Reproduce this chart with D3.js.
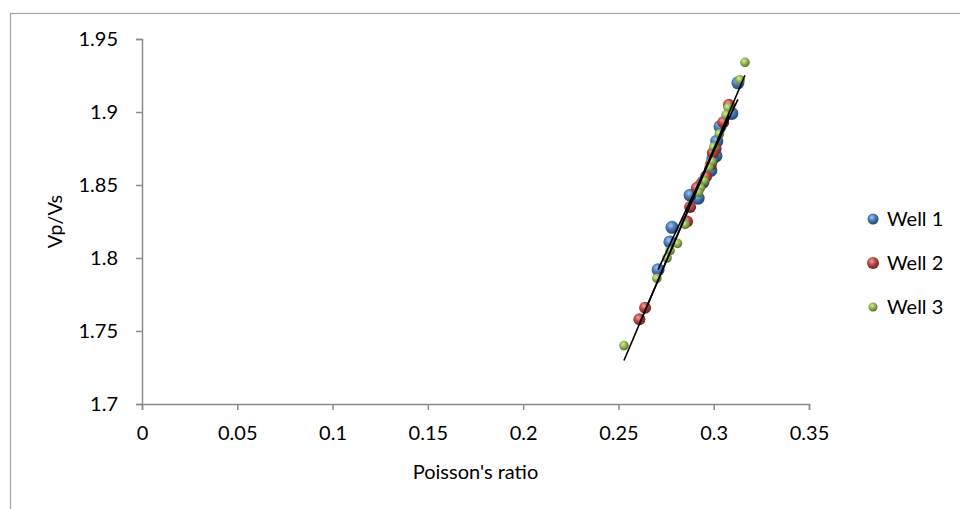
<!DOCTYPE html>
<html>
<head>
<meta charset="utf-8">
<script src="https://cdn.jsdelivr.net/npm/d3@7"></script>
<style>
  body { margin: 0; background: #fff; }
  text { font-family: Lato, "Open Sans", sans-serif; fill: #000; }
</style>
</head>
<body>
<div id="chart"></div>
<script>
// values
const seriesNames = ["Well 1", "Well 2", "Well 3"];
const well1 = [
  [0.3127, 1.920], [0.3095, 1.899], [0.3033, 1.890], [0.3016, 1.880], [0.3012, 1.870],
  [0.2995, 1.868], [0.2985, 1.860], [0.2944, 1.852], [0.2918, 1.841], [0.2876, 1.843],
  [0.2781, 1.821], [0.2770, 1.811], [0.2708, 1.792]
];
const well2 = [
  [0.3080, 1.905], [0.3050, 1.893], [0.3010, 1.875], [0.2995, 1.872], [0.2985, 1.864],
  [0.2960, 1.856], [0.2930, 1.850], [0.2911, 1.848], [0.2876, 1.835], [0.2860, 1.825],
  [0.2640, 1.766], [0.2610, 1.758]
];
const well3 = [
  [0.3164, 1.934], [0.3138, 1.922], [0.3075, 1.903], [0.3065, 1.898], [0.3030, 1.885],
  [0.3000, 1.876], [0.2990, 1.866], [0.2975, 1.862], [0.2950, 1.853], [0.2930, 1.848],
  [0.2920, 1.845], [0.2850, 1.823], [0.2810, 1.810], [0.2771, 1.805], [0.2755, 1.800],
  [0.2702, 1.786], [0.2529, 1.740]
];
const xTicks = [0, 0.05, 0.1, 0.15, 0.2, 0.25, 0.3, 0.35];
const xTickLabels = ["0", "0.05", "0.1", "0.15", "0.2", "0.25", "0.3", "0.35"];
const yTicks = [1.7, 1.75, 1.8, 1.85, 1.9, 1.95];
const yTickLabels = ["1.7", "1.75", "1.8", "1.85", "1.9", "1.95"];

const width = 960, height = 509;
const margin = {left: 142, right: 151, top: 39, bottom: 105};

const svg = d3.select("#chart").append("svg")
  .attr("width", width)
  .attr("height", height);

// chart area border (cut off on the right and bottom)
svg.append("rect")
  .attr("x", 10.5).attr("y", 13.5)
  .attr("width", 1000).attr("height", 600)
  .attr("fill", "none")
  .attr("stroke", "#a6a6a6")
  .attr("stroke-width", 1.2);

const x = d3.scaleLinear().domain([0, 0.35]).range([margin.left, width - margin.right]);
const y = d3.scaleLinear().domain([1.7, 1.95]).range([height - margin.bottom, margin.top]);

// sphere-like gradients
const colors = [
  {base: "#4a7ebb", light: "#a9c6ee", dark: "#23436e"},
  {base: "#be4b48", light: "#f0a8a6", dark: "#6e1f1d"},
  {base: "#98b954", light: "#d8eea6", dark: "#56702a"}
];
const defs = svg.append("defs");
colors.forEach((c, i) => {
  const g = defs.append("radialGradient")
    .attr("id", "ball" + i)
    .attr("cx", "40%").attr("cy", "35%").attr("r", "65%");
  g.append("stop").attr("offset", "0%").attr("stop-color", c.light);
  g.append("stop").attr("offset", "45%").attr("stop-color", c.base);
  g.append("stop").attr("offset", "100%").attr("stop-color", c.dark);
});

// axes
const xAxis = svg.append("g")
  .attr("transform", `translate(0, ${y(1.7)})`)
  .call(d3.axisBottom(x).tickValues(xTicks).tickSize(6).tickPadding(16)
    .tickFormat((d, i) => xTickLabels[i]));
const yAxis = svg.append("g")
  .attr("transform", `translate(${x(0)}, 0)`)
  .call(d3.axisLeft(y).tickValues(yTicks).tickSize(6).tickPadding(18)
    .tickFormat((d, i) => yTickLabels[i]));

[xAxis, yAxis].forEach(a => {
  a.select(".domain").attr("stroke", "#8c8c8c").attr("stroke-width", 1.5);
  a.selectAll(".tick line").attr("stroke", "#8c8c8c").attr("stroke-width", 1.5);
  a.selectAll(".tick text").attr("font-size", 20).attr("font-family", "Lato, sans-serif").attr("fill", "#000");
});

// axis titles
svg.append("text")
  .attr("x", (x(0) + x(0.35)) / 2)
  .attr("y", 479)
  .attr("text-anchor", "middle")
  .attr("font-size", 20)
  .text("Poisson's ratio");

svg.append("text")
  .attr("transform", `translate(62, ${(y(1.7) + y(1.95)) / 2}) rotate(-90)`)
  .attr("text-anchor", "middle")
  .attr("font-size", 20)
  .text("Vp/Vs");

const allSeries = [well1, well2, well3];
const radius = [6.5, 6, 4.8];

// points
allSeries.forEach((data, i) => {
  svg.append("g").selectAll("circle")
    .data(data)
    .join("circle")
    .attr("cx", d => x(d[0]))
    .attr("cy", d => y(d[1]))
    .attr("r", radius[i])
    .attr("fill", `url(#ball${i})`);
});

// linear trendlines, one per series, over each series' x range
function fit(data) {
  const mx = d3.mean(data, d => d[0]), my = d3.mean(data, d => d[1]);
  const sxy = d3.sum(data, d => (d[0] - mx) * (d[1] - my));
  const sxx = d3.sum(data, d => (d[0] - mx) ** 2);
  const b = sxy / sxx, a = my - b * mx;
  const [x0, x1] = d3.extent(data, d => d[0]);
  return [[x0, a + b * x0], [x1, a + b * x1]];
}
const line = d3.line().x(d => x(d[0])).y(d => y(d[1]));
allSeries.forEach(data => {
  svg.append("path")
    .attr("d", line(fit(data)))
    .attr("stroke", "#000")
    .attr("stroke-width", 1.6)
    .attr("fill", "none");
});

// legend
const legend = svg.append("g").attr("transform", "translate(873, 219)");
seriesNames.forEach((name, i) => {
  const row = legend.append("g").attr("transform", `translate(0, ${i * 44})`);
  row.append("circle")
    .attr("r", [5.5, 6, 4.5][i])
    .attr("fill", `url(#ball${i})`);
  row.append("text")
    .attr("x", 14)
    .attr("dy", "0.35em")
    .attr("font-size", 20)
    .text(name);
});
</script>
</body>
</html>
